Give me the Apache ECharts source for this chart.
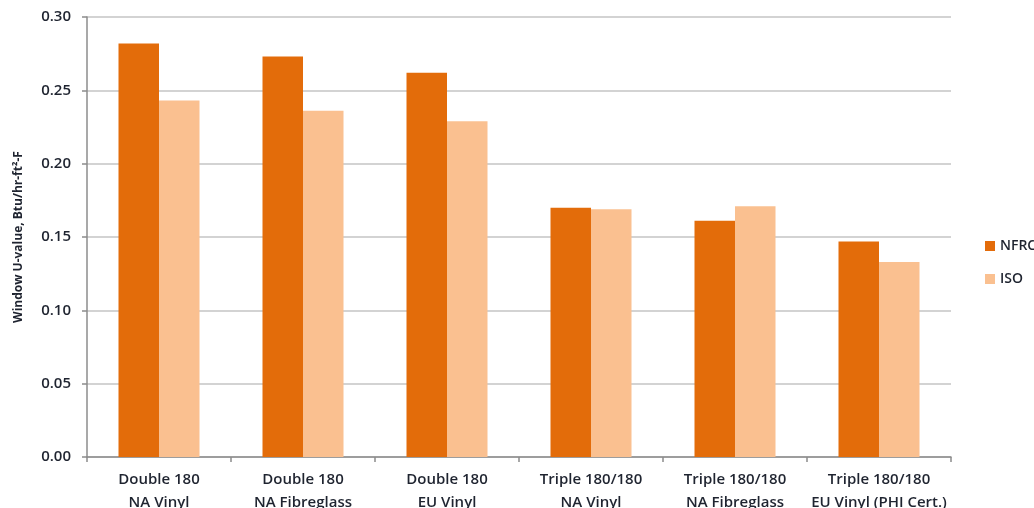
<!DOCTYPE html>
<html>
<head>
<meta charset="utf-8">
<script src="https://cdn.jsdelivr.net/npm/echarts@6/dist/echarts.min.js"></script>
<style>
  html, body { margin: 0; padding: 0; background: #fff; }
  #chart { width: 1034px; height: 508px; }
</style>
</head>
<body>
<div id="chart"></div>
<script>
// Window types compared
const categories = [
  'Double 180\nNA Vinyl',
  'Double 180\nNA Fibreglass',
  'Double 180\nEU Vinyl',
  'Triple 180/180\nNA Vinyl',
  'Triple 180/180\nNA Fibreglass',
  'Triple 180/180\nEU Vinyl (PHI Cert.)'
];
// U-values by rating method (Btu/hr-ft²-F)
const nfrcValues = [0.282, 0.273, 0.262, 0.170, 0.161, 0.147];
const isoValues  = [0.243, 0.236, 0.229, 0.169, 0.171, 0.133];
const yTicks = [0.00, 0.05, 0.10, 0.15, 0.20, 0.25, 0.30];

const textColor = '#1f2430';
const font = '"Open Sans", "Liberation Sans", sans-serif';

const chart = echarts.init(document.getElementById('chart'), null, { renderer: 'canvas' });
chart.setOption({
  animation: false,
  backgroundColor: '#ffffff',
  textStyle: { fontFamily: font },
  grid: { left: 87, right: 83, top: 17, bottom: 51, containLabel: false, outerBoundsMode: 'none' },
  legend: {
    orient: 'vertical',
    left: 980,
    top: 234,
    itemWidth: 10,
    itemHeight: 10,
    itemGap: 19,
    icon: 'rect',
    textStyle: { color: textColor, fontSize: 14, fontWeight: 600, fontFamily: font },
    data: ['NFRC', 'ISO']
  },
  xAxis: {
    type: 'category',
    data: categories,
    axisLine: { lineStyle: { color: '#8c8c8c', width: 1.5 } },
    axisTick: { show: true, length: 5, lineStyle: { color: '#8c8c8c', width: 1.5 } },
    axisLabel: {
      color: textColor, fontSize: 15, fontWeight: 600, fontFamily: font,
      lineHeight: 23, margin: 11, interval: 0
    }
  },
  yAxis: {
    type: 'value',
    min: 0,
    max: 0.30,
    interval: 0.05,
    name: 'Window U-value, Btu/hr-ft²-F',
    nameLocation: 'middle',
    nameGap: 62,
    nameRotate: 90,
    nameTextStyle: { color: textColor, fontSize: 12, fontWeight: 'bold', fontFamily: font },
    axisLine: { show: true, lineStyle: { color: '#8c8c8c', width: 1.5 } },
    axisTick: { show: true, length: 5, lineStyle: { color: '#8c8c8c', width: 1.5 } },
    axisLabel: {
      color: textColor, fontSize: 15, fontWeight: 600, fontFamily: font, margin: 16,
      formatter: v => {
        const t = yTicks.find(x => Math.abs(x - v) < 1e-9);
        return (t !== undefined ? t : v).toFixed(2);
      }
    },
    splitLine: { lineStyle: { color: '#c4c4c4', width: 1.5 } }
  },
  series: [
    {
      name: 'NFRC',
      type: 'bar',
      data: nfrcValues,
      barWidth: 40.5,
      barGap: '0%',
      itemStyle: { color: '#E36C0A' }
    },
    {
      name: 'ISO',
      type: 'bar',
      data: isoValues,
      barWidth: 40.5,
      barGap: '0%',
      itemStyle: { color: '#FAC090' }
    }
  ]
});
</script>
</body>
</html>
